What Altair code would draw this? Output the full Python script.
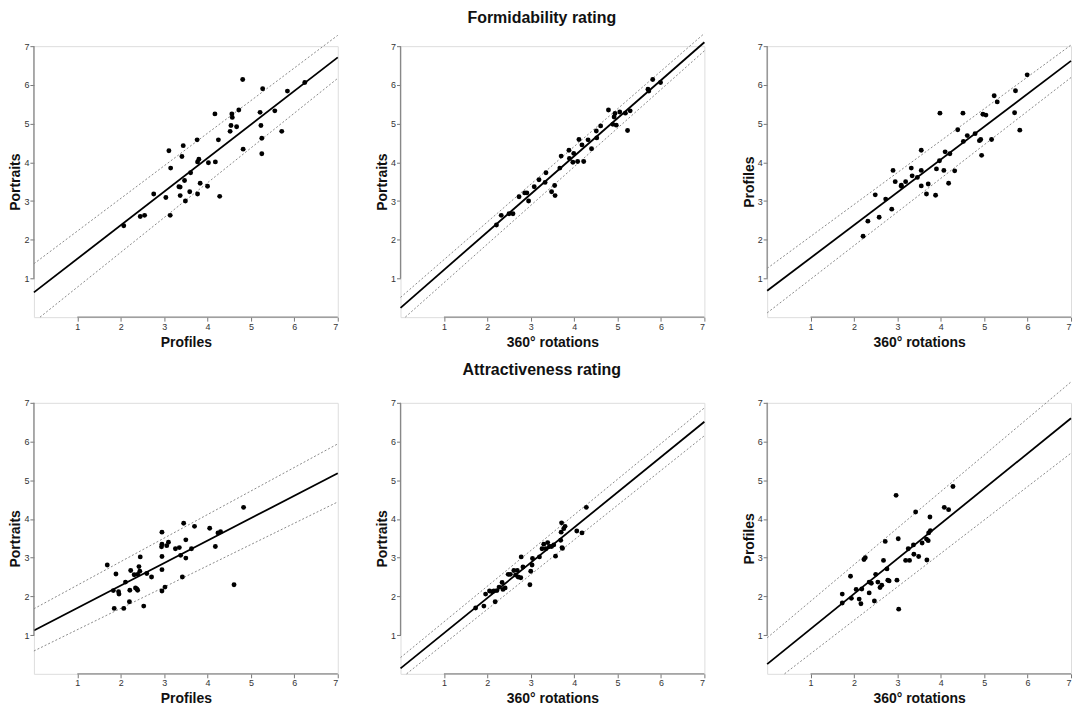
import altair as alt
import pandas as pd

TICKS = [1, 2, 3, 4, 5, 6, 7]
DOMAIN = [0, 7]

# ---------- Formidability: Profiles (x) vs Portraits (y)
F1_X = [2.07, 2.45, 2.55, 2.76, 3.04, 3.11, 3.15, 3.14, 3.34, 3.37, 3.37, 3.41, 3.44, 3.47, 3.49,
        3.59, 3.61, 3.76, 3.77, 3.80, 3.77, 3.83, 4.00, 4.02, 4.18, 4.17, 4.25, 4.28, 4.52, 4.54,
        4.56, 4.57, 4.67, 4.72, 4.81, 4.82, 5.21, 5.23, 5.25, 5.25, 5.27, 5.55, 5.71, 5.84, 6.24]
F1_Y = [2.36, 2.60, 2.63, 3.18, 3.09, 4.30, 3.85, 2.63, 3.37, 3.36, 3.14, 4.15, 4.43, 3.53, 3.00,
        3.24, 3.73, 4.58, 4.01, 4.08, 3.18, 3.46, 3.38, 3.99, 4.01, 5.25, 4.58, 3.12, 4.80, 4.95,
        5.25, 5.16, 4.92, 5.35, 6.14, 4.34, 5.29, 4.95, 4.62, 4.22, 5.90, 5.33, 4.80, 5.84, 6.06]
F1_LINES = {"fit": ([0.0, 7.0], [0.64, 6.71]),
            "upper": ([0.0, 7.0], [1.38, 7.28]),
            "lower": ([0.14, 7.0], [0.0, 6.17])}

# ---------- Formidability: 360° rotations (x) vs Portraits (y)
F2_X = [2.21, 2.32, 2.50, 2.59, 2.73, 2.86, 2.91, 2.95, 3.08, 3.19, 3.33, 3.35, 3.48, 3.55, 3.56,
        3.67, 3.70, 3.88, 3.89, 3.97, 3.99, 4.08, 4.11, 4.18, 4.22, 4.32, 4.40, 4.51, 4.52, 4.61,
        4.79, 4.89, 4.92, 4.94, 4.97, 5.05, 5.18, 5.23, 5.29, 5.70, 5.72, 5.81, 5.99]
F2_Y = [2.38, 2.63, 2.67, 2.67, 3.11, 3.21, 3.21, 3.00, 3.37, 3.55, 3.48, 3.73, 3.24, 3.40, 3.14,
        3.85, 4.16, 4.31, 4.10, 4.00, 4.23, 4.02, 4.59, 4.45, 4.02, 4.58, 4.35, 4.81, 4.63, 4.94,
        5.35, 4.98, 5.17, 5.26, 4.96, 5.30, 5.27, 4.82, 5.33, 5.89, 5.84, 6.14, 6.06]
F2_LINES = {"fit": ([0.0, 7.0], [0.24, 7.10]),
            "upper": ([0.0, 7.0], [0.51, 7.33]),
            "lower": ([0.11, 7.0], [0.0, 6.88])}

# ---------- Formidability: 360° rotations (x) vs Profiles (y)
F3_X = [2.21, 2.32, 2.49, 2.58, 2.73, 2.87, 2.90, 2.95, 3.09, 3.09, 3.19, 3.32, 3.34, 3.46, 3.55,
        3.55, 3.55, 3.67, 3.71, 3.88, 3.90, 3.97, 3.98, 4.07, 4.10, 4.18, 4.21, 4.32, 4.39, 4.52,
        4.51, 4.61, 4.79, 4.89, 4.92, 4.94, 4.97, 5.04, 5.17, 5.23, 5.30, 5.70, 5.72, 5.82, 5.99]
F3_Y = [2.09, 2.48, 3.16, 2.58, 3.05, 2.79, 3.79, 3.50, 3.38, 3.41, 3.50, 3.85, 3.65, 3.61, 3.39,
        3.79, 4.31, 3.18, 3.44, 3.15, 3.83, 4.04, 5.27, 3.79, 4.27, 3.46, 4.22, 3.78, 4.84, 4.54,
        5.27, 4.69, 4.74, 4.56, 4.59, 4.18, 5.24, 5.22, 4.59, 5.72, 5.56, 5.28, 5.85, 4.83, 6.26]
F3_LINES = {"fit": ([0.0, 7.0], [0.68, 6.62]),
            "upper": ([0.0, 7.0], [1.26, 7.03]),
            "lower": ([0.0, 7.0], [0.11, 6.19])}

# ---------- Attractiveness: Profiles (x) vs Portraits (y)
A1_X = [1.69, 1.85, 1.83, 1.89, 1.95, 1.96, 2.07, 2.11, 2.20, 2.21, 2.23, 2.31, 2.34, 2.37, 2.39,
        2.39, 2.42, 2.44, 2.45, 2.53, 2.60, 2.71, 2.95, 2.95, 2.94, 2.95, 2.95, 2.95, 3.02, 3.06,
        3.10, 3.26, 3.35, 3.38, 3.42, 3.45, 3.50, 3.50, 3.63, 3.70, 4.05, 4.18, 4.24, 4.30, 4.61, 4.83]
A1_Y = [2.81, 1.69, 2.15, 2.58, 2.12, 2.06, 1.69, 2.37, 1.86, 2.16, 2.67, 2.56, 2.22, 2.19, 2.16,
        2.57, 2.77, 2.65, 3.02, 1.75, 2.59, 2.50, 2.69, 3.03, 3.28, 3.35, 3.66, 2.14, 2.24, 3.31,
        3.40, 3.23, 3.26, 3.06, 2.50, 3.89, 3.46, 2.99, 3.23, 3.81, 3.76, 3.29, 3.64, 3.67, 2.30, 4.30]
A1_LINES = {"fit": ([0.0, 7.0], [1.12, 5.18]),
            "upper": ([0.0, 7.0], [1.68, 5.94]),
            "lower": ([0.0, 7.0], [0.59, 4.44])}

# ---------- Attractiveness: 360° rotations (x) vs Portraits (y)
A2_X = [1.73, 1.92, 1.96, 2.05, 2.11, 2.15, 2.18, 2.22, 2.27, 2.34, 2.36, 2.41, 2.48, 2.53, 2.61,
        2.65, 2.69, 2.71, 2.77, 2.78, 2.82, 3.00, 2.98, 3.03, 3.04, 3.20, 3.26, 3.30, 3.35, 3.39,
        3.43, 3.48, 3.53, 3.57, 3.69, 3.70, 3.71, 3.72, 3.73, 3.76, 3.79, 4.06, 4.18, 4.28]
A2_Y = [1.70, 1.75, 2.06, 2.14, 2.12, 2.14, 1.86, 2.15, 2.24, 2.36, 2.18, 2.22, 2.57, 2.57, 2.67,
        2.55, 2.67, 2.50, 2.48, 3.02, 2.76, 2.65, 2.30, 2.81, 2.98, 3.02, 3.23, 3.35, 3.23, 3.39,
        3.29, 3.29, 3.33, 3.04, 3.45, 3.66, 3.90, 3.26, 3.24, 3.75, 3.81, 3.69, 3.64, 4.30]
A2_LINES = {"fit": ([0.0, 7.0], [0.14, 6.51]),
            "upper": ([0.0, 7.0], [0.42, 6.87]),
            "lower": ([0.14, 7.0], [0.0, 6.15])}

# ---------- Attractiveness: 360° rotations (x) vs Profiles (y)
A3_X = [1.73, 1.73, 1.92, 1.94, 2.05, 2.12, 2.16, 2.18, 2.23, 2.26, 2.35, 2.35, 2.40, 2.47, 2.50,
        2.55, 2.60, 2.64, 2.68, 2.72, 2.76, 2.78, 2.81, 2.97, 2.99, 3.02, 3.03, 3.19, 3.28, 3.25,
        3.37, 3.38, 3.42, 3.49, 3.57, 3.68, 3.67, 3.71, 3.72, 3.76, 3.75, 4.08, 4.18, 4.28]
A3_Y = [2.06, 1.83, 2.52, 1.95, 2.18, 1.93, 1.81, 2.19, 2.95, 3.00, 2.37, 2.09, 2.34, 1.88, 2.57,
        2.37, 2.23, 2.29, 2.93, 3.42, 2.71, 2.42, 2.40, 4.61, 2.42, 3.49, 1.67, 2.93, 2.93, 3.23,
        3.33, 3.09, 4.18, 3.03, 3.38, 2.94, 3.48, 3.44, 3.64, 3.70, 4.05, 4.30, 4.24, 4.84]
A3_LINES = {"fit": ([0.0, 7.0], [0.25, 6.60]),
            "upper": ([0.0, 7.0], [0.93, 7.54]),
            "lower": ([0.40, 7.0], [0.0, 5.70])}

FONT = "Liberation Sans"
W, H = 305, 272


def panel(px, py, lines, xtitle, ytitle):
    pts = pd.DataFrame({"x": px, "y": py})
    rows = []
    for name, (xs, ys) in lines.items():
        for a, b in zip(xs, ys):
            rows.append({"line": name, "x": a, "y": b})
    ldf = pd.DataFrame(rows)

    xs = alt.Scale(domain=DOMAIN, nice=False, zero=False)
    ys = alt.Scale(domain=DOMAIN, nice=False, zero=False)
    common = dict(values=TICKS, domain=False, grid=False, tickSize=4, tickColor="#777777",
                  tickWidth=1, labelFontSize=9, labelColor="#333333", labelFont=FONT,
                  titleFont=FONT, titleFontSize=14, titleFontWeight="bold", titleColor="#111111",
                  format="d")
    xaxis = alt.Axis(title=xtitle, labelPadding=1, titlePadding=4, **common)
    yaxis = alt.Axis(title=ytitle, labelAngle=0, labelPadding=1, titlePadding=1, **common)

    def X(f="x"):
        return alt.X(f"{f}:Q", scale=xs, axis=xaxis)

    def Y(f="y"):
        return alt.Y(f"{f}:Q", scale=ys, axis=yaxis)

    band = alt.Chart(ldf).transform_filter(alt.datum.line != "fit").mark_line(
        color="#8a8a8a", strokeDash=[2, 2], strokeWidth=1
    ).encode(x=X(), y=Y(), detail="line:N")
    fit = alt.Chart(ldf).transform_filter(alt.datum.line == "fit").mark_line(
        color="black", strokeWidth=1.8
    ).encode(x=X(), y=Y())
    dots = alt.Chart(pts).mark_circle(size=24, color="black", opacity=1).encode(x=X(), y=Y())

    xr = alt.Chart(pd.DataFrame({"x": [min(TICKS)], "x2": [max(TICKS)], "y": [DOMAIN[0]]})).mark_rule(
        color="#888888", strokeWidth=1.3).encode(x=X(), x2="x2:Q", y=Y())
    yr = alt.Chart(pd.DataFrame({"x": [DOMAIN[0]], "y": [min(TICKS)], "y2": [max(TICKS)]})).mark_rule(
        color="#888888", strokeWidth=1.3).encode(x=X(), y=Y(), y2="y2:Q")

    return alt.layer(band, fit, dots, xr, yr).properties(width=W, height=H)


def row(panels, title, offset):
    return alt.hconcat(*panels, spacing=63, bounds="flush").properties(
        title=alt.TitleParams(title, fontSize=16, fontWeight="bold", font=FONT, color="#111111",
                              anchor="middle", offset=offset)
    )


row1 = row([
    panel(F1_X, F1_Y, F1_LINES, "Profiles", "Portraits"),
    panel(F2_X, F2_Y, F2_LINES, "360° rotations", "Portraits"),
    panel(F3_X, F3_Y, F3_LINES, "360° rotations", "Profiles"),
], "Formidability rating", 5)

row2 = row([
    panel(A1_X, A1_Y, A1_LINES, "Profiles", "Portraits"),
    panel(A2_X, A2_Y, A2_LINES, "360° rotations", "Portraits"),
    panel(A3_X, A3_Y, A3_LINES, "360° rotations", "Profiles"),
], "Attractiveness rating", 1)

chart = alt.vconcat(row1, row2, spacing=12).properties(
    padding={"left": 0, "top": 0, "right": 0, "bottom": 0}
).configure_view(strokeWidth=0, stroke="transparent").configure(font=FONT, background="white")

chart.save("out.html", embed_options={"renderer": "svg", "actions": False})
